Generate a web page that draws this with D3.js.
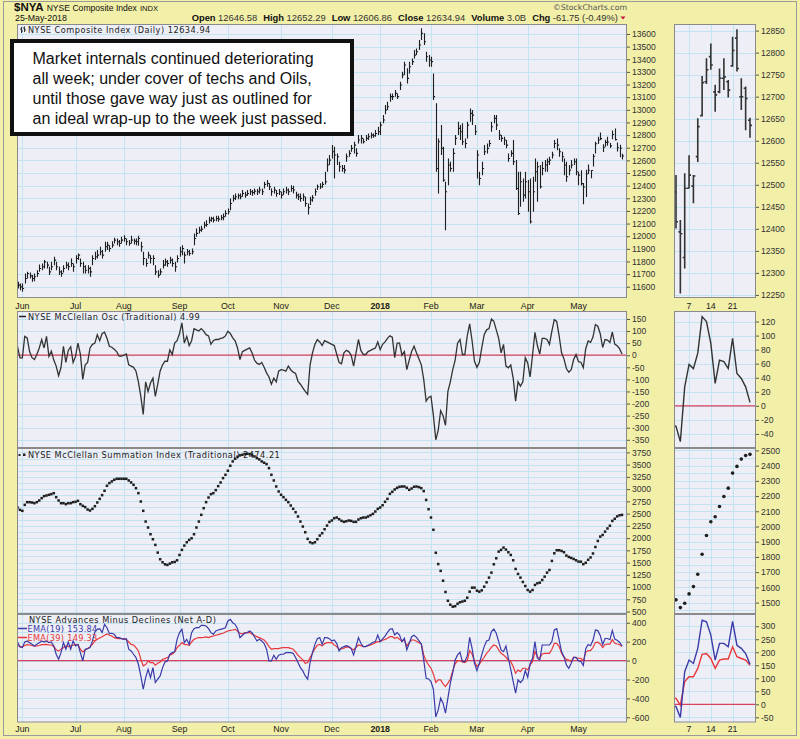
<!DOCTYPE html>
<html>
<head>
<meta charset="utf-8">
<script src="https://cdn.jsdelivr.net/npm/d3@7"></script>
<style>
  body { margin: 0; background: #f2efa8; }
  svg { display: block; }
</style>
</head>
<body>
<svg id="chart" width="800" height="739"></svg>
<script>
// ---- data ----
const monthLabels = ["Jun","Jul","Aug","Sep","Oct","Nov","Dec","2018","Feb","Mar","Apr","May"];
const monthStart  = [2, 24, 44, 67, 87, 109, 130, 150, 171, 190, 211, 232];
const miniLabels  = ["7", "14", "21"];
const miniStart   = [236, 241, 246];

const nyaClose = [
  11613,11599,11586,11665,11705,11686,11665,11679,11705,11745,
  11758,11797,11771,11718,11758,11811,11758,11718,11705,11745,
  11771,11758,11784,11758,11824,11850,11784,11758,11731,11745,
  11718,11824,11837,11850,11877,11850,11916,11929,11903,11929,
  11969,11956,11942,11969,11982,11956,11942,11969,11961,11956,
  11982,11916,11824,11784,11850,11824,11824,11718,11692,11718,
  11771,11797,11784,11811,11784,11758,11824,11877,11903,11850,
  11877,11863,11877,11982,12022,12048,12056,12088,12093,12127,
  12140,12127,12140,12135,12146,12154,12180,12193,12259,12299,
  12312,12320,12312,12338,12325,12338,12352,12346,12357,12352,
  12365,12352,12410,12418,12391,12352,12365,12338,12352,12325,
  12352,12365,12352,12378,12365,12325,12312,12299,12312,12259,
  12225,12286,12304,12352,12391,12391,12410,12431,12563,12602,
  12668,12642,12629,12549,12536,12523,12629,12655,12695,12721,
  12655,12761,12774,12747,12774,12787,12800,12795,12813,12826,
  12879,12919,12998,13024,13104,13104,13130,13104,13196,13275,
  13354,13249,13341,13381,13433,13460,13513,13605,13539,13420,
  13394,13381,13104,12536,12747,12695,12444,12352,12563,12536,
  12655,12774,12853,12826,12747,12734,12879,12972,12958,12826,
  12642,12457,12536,12668,12695,12734,12866,12932,12879,12800,
  12774,12761,12721,12615,12655,12589,12378,12180,12431,12325,
  12431,12352,12114,12352,12510,12549,12391,12536,12563,12589,
  12602,12642,12734,12721,12668,12629,12563,12470,12523,12563,
  12589,12510,12483,
  12416,12389,12492,12522,12520,12632,12732,12761,12772,12704,
  12742,12745,12715,12805,12764,12700,12696,12634.94
];
const nyaHigh = [
  11639,11626,11626,11705,11718,11713,11692,11705,11731,11776,
  11784,11811,11797,11758,11797,11837,11797,11758,11731,11771,
  11797,11792,11824,11784,11850,11863,11824,11797,11771,11771,
  11758,11850,11877,11890,11916,11890,11956,11956,11929,11961,
  11987,11982,11969,11995,12008,11982,11969,12003,11982,11982,
  12003,11956,11877,11824,11877,11850,11850,11771,11731,11745,
  11811,11824,11811,11837,11824,11797,11850,11916,11929,11877,
  11898,11890,11903,12022,12061,12074,12082,12114,12127,12154,
  12154,12154,12162,12162,12167,12180,12206,12220,12299,12325,
  12338,12338,12338,12365,12352,12365,12373,12365,12378,12373,
  12391,12378,12431,12444,12418,12378,12391,12365,12373,12352,
  12378,12391,12378,12404,12399,12352,12338,12338,12338,12312,
  12259,12312,12325,12378,12410,12418,12431,12510,12615,12642,
  12721,12708,12655,12589,12563,12563,12655,12681,12721,12747,
  12695,12800,12800,12774,12800,12813,12821,12813,12840,12866,
  12906,12958,13038,13064,13130,13130,13156,13130,13222,13302,
  13381,13328,13381,13407,13473,13486,13552,13645,13605,13460,
  13433,13420,13288,13051,12774,12879,12708,12431,12615,12589,
  12695,12800,12906,12879,12893,12774,12906,13011,12998,12879,
  12681,12510,12589,12721,12734,12761,12906,12958,12958,12840,
  12800,12787,12761,12655,12681,12761,12602,12510,12510,12457,
  12510,12444,12457,12470,12615,12589,12563,12589,12602,12615,
  12629,12668,12761,12774,12695,12668,12615,12589,12563,12602,
  12615,12615,12510,
  12522,12420,12526,12567,12522,12651,12747,12787,12821,12727,
  12764,12787,12738,12836,12853,12742,12723,12652.29
];
const nyaLow = [
  11586,11573,11560,11626,11665,11665,11639,11644,11679,11718,
  11731,11745,11745,11692,11731,11771,11731,11692,11679,11713,
  11745,11731,11758,11718,11784,11811,11758,11705,11705,11705,
  11679,11771,11811,11824,11850,11824,11877,11890,11877,11908,
  11942,11929,11916,11942,11956,11929,11924,11942,11935,11929,
  11924,11877,11771,11758,11824,11784,11771,11692,11671,11692,
  11745,11766,11758,11784,11758,11718,11792,11837,11850,11784,
  11850,11845,11855,11929,11995,12022,12035,12061,12074,12101,
  12114,12109,12119,12114,12127,12127,12154,12172,12206,12272,
  12286,12293,12293,12312,12304,12320,12325,12320,12330,12325,
  12338,12325,12378,12391,12365,12320,12338,12312,12325,12299,
  12325,12338,12325,12352,12338,12299,12286,12272,12278,12233,
  12172,12246,12272,12320,12365,12373,12383,12410,12510,12563,
  12615,12457,12563,12510,12510,12497,12589,12629,12668,12655,
  12629,12734,12734,12734,12753,12761,12774,12779,12787,12800,
  12800,12893,12964,12998,13064,13077,13104,13085,13156,13249,
  13275,13209,13288,13354,13407,13433,13473,13552,13513,13381,
  13341,13341,13077,12510,12338,12642,12431,12048,12404,12510,
  12510,12721,12800,12761,12721,12695,12774,12906,12879,12800,
  12457,12404,12483,12642,12655,12708,12826,12893,12840,12761,
  12747,12721,12695,12589,12629,12563,12365,12167,12233,12272,
  12299,12193,12101,12193,12431,12272,12378,12483,12510,12510,
  12563,12615,12695,12681,12629,12589,12483,12431,12483,12536,
  12563,12483,12404,
  12401,12253,12310,12492,12458,12552,12655,12729,12761,12666,
  12708,12715,12698,12768,12757,12670,12624,12606.86
];
// opens of the last 18 sessions (May 2 - May 25), shown in the inset
const mayOpen = [
  12484,12393,12335,12492,12497,12564,12657,12734,12791,12711,
  12711,12742,12734,12770,12833,12700,12719,12646.58
];

const oscValues = [
  37,-11,-11,78,72,15,-10,-18,3,30,
  65,30,78,-5,17,-20,-45,-85,-50,37,
  -30,20,35,-30,-5,50,5,-100,-40,-30,
  30,45,50,85,60,90,95,70,37,33,
  25,15,-4,-4,0,5,-40,-45,-50,-66,
  -110,-170,-245,-110,-150,-115,-95,-170,-120,-65,
  -40,-25,-25,22,3,50,60,90,134,50,
  78,40,60,110,105,100,110,100,85,80,
  45,60,65,65,70,72,80,99,90,72,
  60,30,-18,15,20,25,30,10,-20,-33,
  -38,-30,-50,-73,-90,-120,-95,-110,-66,-60,
  -62,-66,-45,-60,-70,-75,-108,-120,-135,-150,
  -162,-40,10,45,65,55,40,60,55,50,
  45,40,5,-30,-35,10,20,15,0,-45,
  10,65,20,3,3,15,20,25,30,55,
  23,45,55,70,80,75,-10,50,50,0,
  15,-60,-20,15,37,10,-15,-40,-100,-190,
  -175,-170,-250,-350,-310,-230,-250,-290,-150,-110,
  -60,-20,50,65,3,3,80,130,60,-25,
  -50,-30,30,85,105,110,150,140,105,70,
  10,45,-45,-52,-40,-95,-190,-110,-128,-110,
  -10,-32,-90,0,95,40,5,70,70,65,
  45,100,147,140,80,10,-15,-55,-70,-60,
  -18,3,-27,
  -29,-51,27,59,53,75,127,120,89,32,
  65,63,53,96,46,39,27,4.99
];

const sumValues = [
  2625,2577,2557,2679,2734,2734,2727,2713,2734,2768,
  2816,2857,2870,2884,2898,2918,2836,2768,2713,2713,
  2693,2713,2713,2734,2741,2761,2693,2659,2632,2584,
  2563,2598,2652,2727,2802,2877,2966,3068,3123,3157,
  3191,3211,3211,3211,3211,3211,3177,3136,3088,3020,
  2918,2747,2557,2338,2216,2079,1977,1861,1704,1568,
  1506,1465,1452,1479,1506,1513,1547,1656,1759,1847,
  1915,1963,1997,2079,2216,2338,2475,2611,2734,2829,
  2898,2918,2980,3061,3136,3225,3293,3375,3477,3566,
  3620,3661,3689,3702,3716,3723,3716,3702,3668,3634,
  3607,3566,3539,3511,3429,3293,3177,3054,2952,2884,
  2836,2782,2734,2666,2598,2529,2441,2338,2236,2120,
  1984,1915,1895,1915,1977,2052,2100,2181,2256,2330,
  2360,2406,2420,2386,2352,2332,2345,2359,2352,2332,
  2332,2379,2406,2420,2420,2441,2468,2495,2543,2597,
  2625,2672,2741,2802,2904,2945,2993,3027,3048,3054,
  3054,3027,2986,3013,3048,3054,3041,3020,2960,2780,
  2590,2420,2170,1700,1470,1330,1130,900,720,640,
  600,610,660,690,705,720,783,906,988,988,
  927,906,933,1008,1097,1193,1295,1465,1588,1724,
  1759,1806,1765,1711,1656,1547,1370,1268,1193,1104,
  1022,940,906,940,1043,1077,1090,1145,1213,1295,
  1349,1534,1690,1752,1752,1738,1711,1643,1615,1595,
  1574,1547,1520,
  1518,1467,1496,1557,1605,1686,1818,1941,2031,2064,
  2132,2197,2252,2351,2395,2443,2467,2474.21
];

const ema19Values = [
  197,144,137,197,208,190,172,155,172,190,
  208,197,208,190,197,155,67,14,84,190,
  120,197,120,208,155,172,84,-4,120,127,
  137,208,303,331,338,296,384,348,285,289,
  278,243,243,232,225,232,120,102,67,32,
  -39,-162,-303,-180,-92,-180,-74,-232,-197,-162,
  -74,-14,-4,67,84,92,225,296,331,190,
  225,172,296,338,348,348,373,373,366,338,
  296,278,313,324,331,338,348,419,436,401,
  384,338,243,268,289,296,313,296,253,208,
  225,208,180,120,-4,-4,56,14,56,67,
  67,84,84,84,77,32,-21,-74,-109,-162,
  -197,-21,84,172,232,243,172,243,243,232,
  208,218,183,102,137,148,158,148,130,60,
  148,243,183,148,148,162,176,194,201,271,
  201,229,260,299,331,338,271,296,271,201,
  236,113,183,253,268,246,211,176,7,-187,
  -194,-222,-303,-595,-521,-398,-451,-556,-398,-239,
  -127,7,60,88,-11,-11,49,246,130,-28,
  -106,-28,60,148,208,218,306,334,289,201,
  113,95,155,25,-92,-222,-345,-204,-232,-204,
  -106,-176,-35,25,201,25,7,165,165,165,
  165,201,324,338,218,95,42,-46,-81,-28,
  35,35,-3,
  -9,-51,125,170,157,215,323,317,266,170,
  234,234,221,319,227,215,195,153.84
];

const ema39Values = [
  165,150,145,160,168,165,160,152,155,160,
  168,168,172,165,165,150,115,100,120,137,
  155,148,155,162,169,169,120,92,113,127,
  148,172,208,225,239,253,268,282,268,260,
  243,236,232,232,232,225,197,172,165,137,
  102,14,-56,-42,-4,-21,-21,-49,-28,-14,
  14,21,32,56,67,92,137,162,190,172,
  169,162,197,225,236,243,243,246,250,243,
  253,260,268,275,282,289,303,313,320,324,
  331,313,289,282,296,296,296,278,268,253,
  243,232,218,190,148,120,127,127,127,134,
  137,137,137,130,120,92,56,32,7,-28,
  -21,32,77,127,162,172,155,180,190,190,
  190,165,148,120,123,130,144,141,127,113,
  141,165,158,148,151,158,165,176,190,201,
  201,215,225,236,253,253,236,246,225,204,
  218,155,190,218,218,204,190,176,60,-4,
  -46,-81,-141,-232,-204,-204,-246,-275,-239,-197,
  -106,-35,0,0,-14,-21,0,106,70,-11,
  -63,-39,0,35,77,106,141,165,155,113,
  77,60,35,7,-11,-63,-134,-99,-116,-81,
  -81,-99,-46,-11,95,42,25,70,77,77,
  77,120,183,183,148,77,35,14,7,-11,
  35,28,25,
  23,-3,87,106,106,138,192,195,176,138,
  170,174,174,221,183,176,170,149.33
];

// axis tick labels
const priceTicks     = [11600,11700,11800,11900,12000,12100,12200,12300,12400,12500,12600,12700,12800,12900,13000,13100,13200,13300,13400,13500,13600];
const miniPriceTicks = [12250,12300,12350,12400,12450,12500,12550,12600,12650,12700,12750,12800,12850];
const oscTicks       = [150,100,50,0,-50,-100,-150,-200,-250,-300,-350];
const miniOscTicks   = [120,100,80,60,40,20,0,-20,-40];
const sumTicks       = [500,750,1000,1250,1500,1750,2000,2250,2500,2750,3000,3250,3500,3750];
const miniSumTicks   = [1500,1600,1700,1800,1900,2000,2100,2200,2300,2400,2500];
const adTicks        = [400,200,0,-200,-400,-600];
const miniAdTicks    = [300,250,200,150,100,50,0,-50];

// ---- layout ----
const mainL = 17, mainR = 627, miniL = 674, miniR = 756;
const panels = [
  { top: 24,  bottom: 298 },
  { top: 311, bottom: 448 },
  { top: 448, bottom: 614 },
  { top: 614, bottom: 722.5 }
];
const bg = "#eeeff6", grid = "#c3e3f1", zeroRed = "#d9405c";
const blue = "#3a3aa8", red = "#e8373a";

const svg = d3.select("#chart");

const x  = d3.scaleLinear().domain([0, 250]).range([17.5, 622]);
const xm = d3.scaleLinear().domain([233, 250]).range([676, 750]);

const yPrice  = d3.scaleLinear().domain([11511, 13679]).range([298, 24]);
const yPriceM = d3.scaleLinear().domain([12243, 12865]).range([298, 24]);
const yOsc    = d3.scaleLinear().domain([-384, 183]).range([448, 311]);
const yOscM   = d3.scaleLinear().domain([-60, 135]).range([448, 311]);
const ySum    = d3.scaleLinear().domain([450, 3840]).range([614, 448]);
const ySumM   = d3.scaleLinear().domain([1425, 2516]).range([614, 448]);
const yAd     = d3.scaleLinear().domain([-655, 493]).range([722.5, 614]);
const yAdM    = d3.scaleLinear().domain([-70, 347]).range([722.5, 614]);

// outer frame
svg.append("rect").attr("x", 3.5).attr("y", 1.5).attr("width", 793).attr("height", 734)
  .attr("fill", "none").attr("stroke", "#9a9a9a");

const defs = svg.append("defs");
let clipId = 0;

function panel(p, left, right, y, gridVals, vGrid) {
  const id = "clip" + (clipId++);
  defs.append("clipPath").attr("id", id).append("rect")
    .attr("x", left).attr("y", p.top).attr("width", right - left).attr("height", p.bottom - p.top);
  const g = svg.append("g");
  g.append("rect").attr("x", left).attr("y", p.top).attr("width", right - left)
    .attr("height", p.bottom - p.top).attr("fill", bg);
  g.selectAll(".hg").data(gridVals).enter().append("line")
    .attr("x1", left).attr("x2", right)
    .attr("y1", d => Math.round(y(d)) + 0.5).attr("y2", d => Math.round(y(d)) + 0.5)
    .attr("stroke", grid).attr("stroke-width", 1);
  g.selectAll(".vg").data(vGrid).enter().append("line")
    .attr("x1", d => Math.round(d) + 0.5).attr("x2", d => Math.round(d) + 0.5)
    .attr("y1", p.top).attr("y2", p.bottom)
    .attr("stroke", grid).attr("stroke-width", 1);
  const plot = svg.append("g").attr("clip-path", "url(#" + id + ")");
  return plot;
}

function border(p, left, right) {
  svg.append("rect").attr("x", left + 0.5).attr("y", p.top + 0.5)
    .attr("width", right - left - 1).attr("height", p.bottom - p.top - 1)
    .attr("fill", "none").attr("stroke", "#8a8a8a").attr("stroke-width", 1);
}

function yAxis(y, ticks, at) {
  const ax = d3.axisRight(y).tickValues(ticks).tickSize(3).tickPadding(2).tickFormat(d => d);
  const g = svg.append("g").attr("transform", "translate(" + at + ",0)").call(ax);
  g.select(".domain").remove();
  g.selectAll("line").attr("stroke", "#555");
  g.selectAll("text").attr("fill", "#333").style("font-family", "Liberation Sans, Arial, sans-serif")
    .style("font-size", "8.6px");
}

const monthX = monthStart.map(i => x(i));
const miniX  = miniStart.map(i => xm(i));
const idx = d3.range(nyaClose.length);
const lastIdx = d3.range(232, 251);

// ---- panel 1: price ----
const p1 = panel(panels[0], mainL, mainR, yPrice, priceTicks, monthX);
p1.selectAll(".bar").data(idx).enter().append("path")
  .attr("d", i => {
    const xx = Math.round(x(i)) + 0.5;
    return "M" + xx + "," + yPrice(nyaHigh[i]) + "V" + yPrice(nyaLow[i]) +
      "M" + xx + "," + yPrice(nyaClose[i]) + "h1.6";
  })
  .attr("stroke", "#1e1e1e").attr("stroke-width", 1.1).attr("fill", "none");
border(panels[0], mainL, mainR);

const p1m = panel(panels[0], miniL, miniR, yPriceM, miniPriceTicks, miniX);
p1m.selectAll(".bar").data(d3.range(233, 251)).enter().append("path")
  .attr("d", i => {
    const xx = xm(i);
    return "M" + xx + "," + yPriceM(nyaHigh[i]) + "V" + yPriceM(nyaLow[i]) +
      "M" + (xx - 2) + "," + yPriceM(mayOpen[i - 233]) + "h2" +
      "M" + xx + "," + yPriceM(nyaClose[i]) + "h2";
  })
  .attr("stroke", "#333").attr("stroke-width", 1.6).attr("fill", "none");
border(panels[0], miniL, miniR);
yAxis(yPrice, priceTicks, mainR);
yAxis(yPriceM, miniPriceTicks, miniR);

// ---- panel 2: McClellan oscillator ----
const p2 = panel(panels[1], mainL, mainR, yOsc, oscTicks, monthX);
p2.append("line").attr("x1", mainL).attr("x2", mainR).attr("y1", yOsc(0)).attr("y2", yOsc(0))
  .attr("stroke", zeroRed).attr("stroke-width", 1.3);
p2.append("path").datum(idx)
  .attr("d", d3.line().x(i => x(i)).y(i => yOsc(oscValues[i])))
  .attr("fill", "none").attr("stroke", "#333").attr("stroke-width", 1.3);
border(panels[1], mainL, mainR);

const p2m = panel(panels[1], miniL, miniR, yOscM, miniOscTicks, miniX);
p2m.append("line").attr("x1", miniL).attr("x2", miniR).attr("y1", yOscM(0)).attr("y2", yOscM(0))
  .attr("stroke", zeroRed).attr("stroke-width", 1.3);
p2m.append("path").datum(lastIdx)
  .attr("d", d3.line().x(i => xm(i)).y(i => yOscM(oscValues[i])))
  .attr("fill", "none").attr("stroke", "#333").attr("stroke-width", 1.4);
border(panels[1], miniL, miniR);
yAxis(yOsc, oscTicks, mainR);
yAxis(yOscM, miniOscTicks, miniR);

// ---- panel 3: summation index ----
const p3 = panel(panels[2], mainL, mainR, ySum, d3.range(500, 3840, 125), monthX);
p3.selectAll(".dot").data(idx).enter().append("rect")
  .attr("x", i => x(i) - 1.25).attr("y", i => ySum(sumValues[i]) - 1.25)
  .attr("width", 2.5).attr("height", 2.5).attr("fill", "#1e1e1e");
border(panels[2], mainL, mainR);

const p3m = panel(panels[2], miniL, miniR, ySumM, d3.range(1450, 2520, 50), miniX);
p3m.selectAll(".dot").data(d3.range(233, 251)).enter().append("circle")
  .attr("cx", i => xm(i)).attr("cy", i => ySumM(sumValues[i])).attr("r", 1.8).attr("fill", "#1e1e1e");
border(panels[2], miniL, miniR);
yAxis(ySum, sumTicks, mainR);
yAxis(ySumM, miniSumTicks, miniR);

// ---- panel 4: advances minus declines EMAs ----
const p4 = panel(panels[3], mainL, mainR, yAd, d3.range(-600, 500, 100), monthX);
p4.append("line").attr("x1", mainL).attr("x2", mainR).attr("y1", yAd(0)).attr("y2", yAd(0))
  .attr("stroke", zeroRed).attr("stroke-width", 1.3);
p4.append("path").datum(idx)
  .attr("d", d3.line().x(i => x(i)).y(i => yAd(ema39Values[i])))
  .attr("fill", "none").attr("stroke", red).attr("stroke-width", 1.2);
p4.append("path").datum(idx)
  .attr("d", d3.line().x(i => x(i)).y(i => yAd(ema19Values[i])))
  .attr("fill", "none").attr("stroke", blue).attr("stroke-width", 1.2);
border(panels[3], mainL, mainR);

const p4m = panel(panels[3], miniL, miniR, yAdM, miniAdTicks, miniX);
p4m.append("line").attr("x1", miniL).attr("x2", miniR).attr("y1", yAdM(0)).attr("y2", yAdM(0))
  .attr("stroke", zeroRed).attr("stroke-width", 1.3);
p4m.append("path").datum(lastIdx)
  .attr("d", d3.line().x(i => xm(i)).y(i => yAdM(ema39Values[i])))
  .attr("fill", "none").attr("stroke", red).attr("stroke-width", 1.4);
p4m.append("path").datum(lastIdx)
  .attr("d", d3.line().x(i => xm(i)).y(i => yAdM(ema19Values[i])))
  .attr("fill", "none").attr("stroke", blue).attr("stroke-width", 1.4);
border(panels[3], miniL, miniR);
yAxis(yAd, adTicks, mainR);
yAxis(yAdM, miniAdTicks, miniR);

// ---- x axis labels ----
const sans = "Liberation Sans, Arial, sans-serif";
[308.5, 732].forEach(yy => {
  svg.selectAll(null).data(monthLabels).enter().append("text")
    .attr("x", (d, k) => monthX[k]).attr("y", yy)
    .attr("text-anchor", "middle").attr("fill", "#222")
    .style("font-family", sans).style("font-size", "8.8px")
    .style("font-weight", d => d === "2018" ? "bold" : "normal")
    .text(d => d);
  svg.selectAll(null).data(miniLabels).enter().append("text")
    .attr("x", (d, k) => miniX[k]).attr("y", yy)
    .attr("text-anchor", "middle").attr("fill", "#222")
    .style("font-family", sans).style("font-size", "8.8px").text(d => d);
});

// ---- panel titles ----
const titleFont = "DejaVu Sans, Verdana, sans-serif";
function title(xx, yy, txt, color) {
  return svg.append("text").attr("x", xx).attr("y", yy).attr("fill", color || "#222")
    .style("font-family", titleFont).style("font-size", "8.2px").style("letter-spacing", "0.5px")
    .text(txt);
}
// small bar glyph
svg.append("path").attr("d", "M21.5,27V33M20,29h1.5M21.5,31h1.5M24.5,26.5V32M23,28h1.5M24.5,30h1.5")
  .attr("stroke", "#333").attr("fill", "none");
title(28, 32.5, "NYSE Composite Index (Daily) 12634.94");
svg.append("line").attr("x1", 19).attr("x2", 26).attr("y1", 316.5).attr("y2", 316.5)
  .attr("stroke", "#222").attr("stroke-width", 1.5);
title(28, 319.5, "NYSE McClellan Osc (Traditional) 4.99");
svg.append("rect").attr("x", 18.5).attr("y", 454).attr("width", 2).attr("height", 2).attr("fill", "#222");
svg.append("rect").attr("x", 23).attr("y", 453.5).attr("width", 2.5).attr("height", 2.5).attr("fill", "#222");
title(28, 458, "NYSE McClellan Summation Index (Traditional) 2474.21");
title(29, 623, "NYSE Advances Minus Declines (Net A-D)");
svg.append("line").attr("x1", 18).attr("x2", 27).attr("y1", 628.5).attr("y2", 628.5)
  .attr("stroke", blue).attr("stroke-width", 1.5);
title(27.5, 631.5, "EMA(19) 153.84", blue).style("letter-spacing", "0.3px");
svg.append("line").attr("x1", 18).attr("x2", 27).attr("y1", 637.5).attr("y2", 637.5)
  .attr("stroke", red).attr("stroke-width", 1.5);
title(27.5, 640.5, "EMA(39) 149.33", red).style("letter-spacing", "0.3px");

// ---- header ----
const hdr = svg.append("text").attr("x", 14).attr("y", 11).attr("fill", "#111").style("font-family", sans);
hdr.append("tspan").style("font-weight", "bold").style("font-size", "11.5px").text("$NYA");
hdr.append("tspan").style("font-size", "8.6px").attr("dx", 3).text("NYSE Composite Index");
hdr.append("tspan").style("font-size", "7.6px").attr("dx", 3).text("INDX");
svg.append("text").attr("x", 15).attr("y", 20.5).attr("fill", "#111")
  .style("font-family", sans).style("font-size", "8.8px").text("25-May-2018");

const quote = [
  ["Open", "12646.58"], ["High", "12652.29"], ["Low", "12606.86"],
  ["Close", "12634.94"], ["Volume", "3.0B"], ["Chg", "-61.75 (-0.49%)"]
];
const qt = svg.append("text").attr("x", 618).attr("y", 20.5).attr("text-anchor", "end")
  .attr("fill", "#111").style("font-family", sans).style("font-size", "9.4px");
quote.forEach((q, k) => {
  qt.append("tspan").attr("dx", k ? 6 : 0).style("font-weight", "bold").text(q[0]);
  qt.append("tspan").attr("dx", 2.5).attr("fill", "#333").text(q[1]);
});
svg.append("path").attr("d", "M620.5,16.5h5l-2.5,3z").attr("fill", "#c4143c");
svg.append("text").attr("x", 627).attr("y", 9.5).attr("text-anchor", "end").attr("fill", "#555")
  .style("font-family", "DejaVu Sans, sans-serif").style("font-size", "7.8px").text("\u00A9StockCharts.com");

// ---- annotation box ----
svg.append("rect").attr("x", 12).attr("y", 41).attr("width", 340).attr("height", 93)
  .attr("fill", "#fff").attr("stroke", "#111").attr("stroke-width", 4);
const note = [
  "Market internals continued deteriorating",
  "all week; under cover of techs and Oils,",
  "until those gave way just as outlined for",
  "an ideal wrap-up to the week just passed."
];
svg.selectAll(null).data(note).enter().append("text")
  .attr("x", 32.5).attr("y", (d, k) => 64.3 + k * 19.8)
  .attr("fill", "#111").style("font-family", sans).style("font-size", "16px")
  .text(d => d);
</script>
</body>
</html>
